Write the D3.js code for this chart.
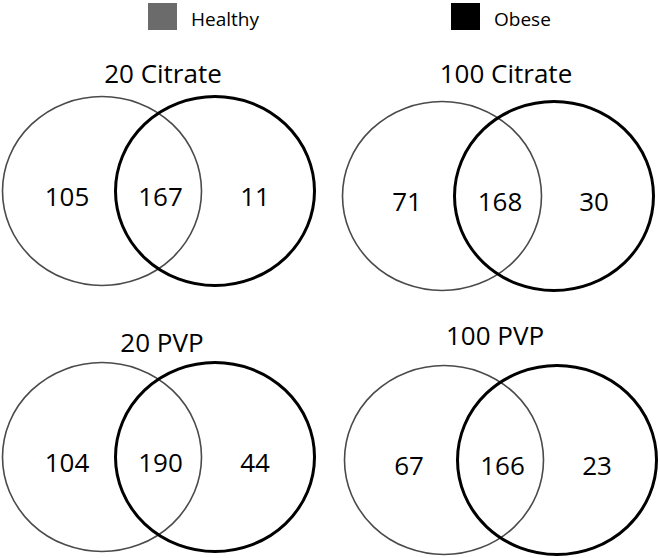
<!DOCTYPE html>
<html>
<head>
<meta charset="utf-8">
<script src="https://cdn.jsdelivr.net/npm/d3@7"></script>
<style>
  html, body { margin: 0; padding: 0; background: #fff; }
  svg { display: block; }
  text { font-family: "Open Sans", "Noto Sans", sans-serif; fill: #000; }
</style>
</head>
<body>
<svg id="chart" width="660" height="558"></svg>
<script>
// ---- data ----
const panelTitles = ["20 Citrate", "100 Citrate", "20 PVP", "100 PVP"];
const healthyOnly = [105, 71, 104, 67];
const shared      = [167, 168, 190, 166];
const obeseOnly   = [11, 30, 44, 23];
const groups      = ["Healthy", "Obese"];
const groupColors = ["#6b6b6b", "#000000"];

// ---- layout (per panel geometry as seen in the reference) ----
const layout = [
  { lcx: 102, rcx: 215, cy: 191, tx: 163, ty: 83 },
  { lcx: 442, rcx: 554, cy: 196, tx: 506, ty: 83 },
  { lcx: 102, rcx: 215, cy: 457, tx: 162, ty: 352 },
  { lcx: 444, rcx: 557, cy: 460, tx: 495, ty: 345 }
];
const rx = 99.5, ry = 94.5;

const svg = d3.select("#chart");

// legend
const legendX = d3.scaleOrdinal().domain(groups).range([148, 451]);
const legend = svg.append("g").selectAll("g").data(groups).join("g")
  .attr("transform", d => `translate(${legendX(d)},3)`);
legend.append("rect")
  .attr("width", 29).attr("height", 27)
  .attr("fill", (d, i) => groupColors[i]);
legend.append("text")
  .attr("x", 43).attr("y", 23)
  .attr("font-size", 19)
  .text(d => d);

const panels = svg.append("g").selectAll("g")
  .data(panelTitles.map((t, i) => ({
    title: t, a: healthyOnly[i], ab: shared[i], b: obeseOnly[i], L: layout[i]
  })))
  .join("g");

panels.append("ellipse")
  .attr("cx", d => d.L.lcx).attr("cy", d => d.L.cy)
  .attr("rx", rx).attr("ry", ry)
  .attr("fill", "none").attr("stroke", "#4a4a4a").attr("stroke-width", 1.6);

panels.append("ellipse")
  .attr("cx", d => d.L.rcx).attr("cy", d => d.L.cy)
  .attr("rx", rx).attr("ry", ry)
  .attr("fill", "none").attr("stroke", "#000").attr("stroke-width", 3);

panels.append("text")
  .attr("x", d => d.L.tx).attr("y", d => d.L.ty)
  .attr("text-anchor", "middle").attr("font-size", 26)
  .text(d => d.title);

const numPos = [
  { key: "a",  x: L => L.lcx - 35 },
  { key: "ab", x: L => (L.lcx + L.rcx) / 2 + 2 },
  { key: "b",  x: L => L.rcx + 40 }
];
panels.each(function(d) {
  d3.select(this).selectAll("text.num").data(numPos).join("text")
    .attr("class", "num")
    .attr("x", p => p.x(d.L)).attr("y", d.L.cy + 15)
    .attr("text-anchor", "middle").attr("font-size", 26)
    .text(p => d[p.key]);
});
</script>
</body>
</html>
